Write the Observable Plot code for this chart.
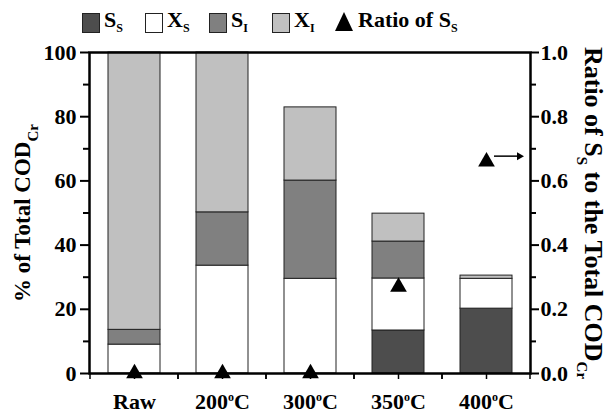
<!DOCTYPE html>
<html>
<head>
<meta charset="utf-8">
<script src="https://cdn.jsdelivr.net/npm/d3@7"></script>
<script src="https://cdn.jsdelivr.net/npm/@observablehq/plot@0.6"></script>
<style>
  body { margin: 0; background: #fff; font-family: "Liberation Serif", "Times New Roman", serif; }
  #wrap { position: relative; width: 608px; height: 416px; }
  #legend { position: relative; height: 42px; width: 608px; font-weight: bold; font-size: 22px; }
  .sw { position: absolute; top: 13px; width: 18px; height: 20px; box-sizing: border-box; border: 1px solid #222; }
  .lt { position: absolute; top: 8px; line-height: 24px; white-space: nowrap; }
  .lt sub { font-size: 12px; vertical-align: -5px; line-height: 0; }
  .tri { position: absolute; top: 12px; width: 0; height: 0; border-left: 9px solid transparent; border-right: 9px solid transparent; border-bottom: 19px solid #000; }
  svg { display: block; overflow: visible; }
</style>
</head>
<body>
<div id="wrap">
  <div id="legend"></div>
  <div id="chart"></div>
</div>
<script>
// ---- data ----
const categories = ["Raw", "200°C", "300°C", "350°C", "400°C"];
const components = ["S_S", "X_S", "S_I", "X_I"];
const Ss = [0, 0, 0, 13.4, 20.2];
const Xs = [9.0, 33.6, 29.5, 16.2, 9.3];
const Si = [4.6, 16.6, 30.6, 11.5, 0];
const Xi = [86.4, 49.8, 22.8, 8.7, 1.0];
const ratioSs = [0, 0, 0, 0.27, 0.66];
const yTicks = [0, 20, 40, 60, 80, 100];
const yMinorTicks = [10, 30, 50, 70, 90];
const ratioTicks = [0, 0.2, 0.4, 0.6, 0.8, 1.0];
const ratioMinorTicks = [0.1, 0.3, 0.5, 0.7, 0.9];
const colors = ["#4d4d4d", "#ffffff", "#808080", "#c0c0c0"];
const leftTitle = [["% of Total COD", ""], ["Cr", "sub"]];
const rightTitle = [["Ratio of S", ""], ["S", "sub"], [" to the Total COD", ""], ["Cr", "sub"]];

// ---- table ----
const series = [Ss, Xs, Si, Xi];
const rows = [];
categories.forEach((c, i) => {
  components.forEach((k, j) => rows.push({cat: c, comp: k, value: series[j][i]}));
});
const ratioRows = categories.map((c, i) => ({cat: c, ratio: ratioSs[i] * 100}));

// ---- legend ----
const legend = d3.select("#legend");
const legendItems = [
  {label: "S", sub: "S", color: colors[0], x: 82},
  {label: "X", sub: "S", color: colors[1], x: 145},
  {label: "S", sub: "I", color: colors[2], x: 209},
  {label: "X", sub: "I", color: colors[3], x: 272}
];
legendItems.forEach(it => {
  legend.append("div").attr("class", "sw").style("left", it.x + "px").style("background", it.color);
  legend.append("div").attr("class", "lt").style("left", (it.x + 22) + "px").html(`${it.label}<sub>${it.sub}</sub>`);
});
legend.append("div").attr("class", "tri").style("left", "335px");
legend.append("div").attr("class", "lt").style("left", "358px").html("Ratio of S<sub>S</sub>");

// ---- plot ----
const font = "Liberation Serif";
const leftText = leftTitle.map(s => s[0]).join("");
const rightText = rightTitle.map(s => s[0]).join("");
const plot = Plot.plot({
  width: 608,
  height: 374,
  marginTop: 10,
  marginBottom: 43,
  marginLeft: 89,
  marginRight: 78,
  style: {fontFamily: font, fontWeight: "bold", fontSize: "22px", color: "#000", background: "#fff", overflow: "visible"},
  x: {domain: categories, paddingInner: 0.41, paddingOuter: 0.205, label: null},
  y: {domain: [0, 100], label: null},
  color: {domain: components, range: colors},
  marks: [
    Plot.rectY(rows, Plot.stackY({order: components}, {x: "cat", y: "value", fill: "comp", stroke: "#222", strokeWidth: 1})),
    Plot.axisY(yTicks, {anchor: "left", tickSize: 9, tickPadding: 4, tickFormat: d => String(d), fontSize: 22, fontWeight: "bold", strokeWidth: 2, label: null}),
    Plot.axisY(yMinorTicks, {anchor: "left", tickSize: 6, text: null, strokeWidth: 2, label: null}),
    Plot.axisY(ratioTicks.map(v => v * 100), {anchor: "right", tickSize: 8, tickPadding: 2, tickFormat: d => (d / 100).toFixed(1), fontSize: 22, fontWeight: "bold", strokeWidth: 2, label: null}),
    Plot.axisY(ratioMinorTicks.map(v => v * 100), {anchor: "right", tickSize: 5, text: null, strokeWidth: 2, label: null}),
    Plot.axisX(categories, {tickSize: 6, tickPadding: 14, fontSize: 22, fontWeight: "bold", strokeWidth: 1.5, label: null}),
    Plot.frame({stroke: "#000", strokeWidth: 2.5}),
    Plot.dot(ratioRows, {x: "cat", y: "ratio", symbol: "triangle", r: 6.2, fill: "#000", stroke: "none"}),
    Plot.text([leftText], {frameAnchor: "left", textAnchor: "middle", dx: -67, rotate: -90, fontSize: 23, fontWeight: "bold"}),
    Plot.text([rightText], {frameAnchor: "right", textAnchor: "middle", dx: 63, rotate: 90, fontSize: 26, fontWeight: "bold"})
  ]
});
document.getElementById("chart").appendChild(plot);

const svg = d3.select(plot);
// rich titles with subscripts (shifts in px so they cancel exactly)
function rich(full, parts, subSize, shift) {
  svg.selectAll("text").filter(function() { return this.textContent === full; }).each(function() {
    const t = d3.select(this);
    t.text(null);
    parts.forEach(([s, kind], i) => {
      const ts = t.append("tspan").text(s);
      const prevSub = i > 0 && parts[i - 1][1] === "sub";
      if (kind === "sub") ts.attr("font-size", subSize).attr("dy", shift);
      else if (prevSub) ts.attr("dy", -shift);
    });
  });
}
rich(leftText, leftTitle, 15, 8);
rich(rightText, rightTitle, 15, 8);

// superscript degree in x tick labels
svg.selectAll("text").filter(function() { return /^\d+°C$/.test(this.textContent); }).each(function() {
  const t = d3.select(this);
  const m = t.text().match(/^(\d+)°C$/);
  t.text(null);
  t.append("tspan").text(m[1]);
  t.append("tspan").text("o").attr("font-size", 12).attr("dy", -8);
  t.append("tspan").text("C").attr("dy", 8);
});

// boundary ticks on x axis and arrow from the last ratio to the right axis
const xs = plot.scale("x"), ys = plot.scale("y");
const step = xs.step;
const y0 = ys.apply(0);
const g = svg.append("g");
categories.forEach(c => {
  const cx = xs.apply(c) + xs.bandwidth / 2;
  [cx - step / 2, cx + step / 2].forEach(bx => {
    g.append("line").attr("x1", bx).attr("x2", bx).attr("y1", y0).attr("y2", y0 + 6).attr("stroke", "#000").attr("stroke-width", 1.5);
  });
});
const last = categories.length - 1;
const ax = xs.apply(categories[last]) + xs.bandwidth / 2;
const ay = ys.apply(ratioSs[last] * 100) - 5;
const xRight = xs.range[1];
g.append("line").attr("x1", ax + 8).attr("x2", xRight - 12).attr("y1", ay).attr("y2", ay).attr("stroke", "#000").attr("stroke-width", 1.5);
g.append("path").attr("d", `M${xRight - 6},${ay} L${xRight - 13},${ay - 4} L${xRight - 13},${ay + 4} Z`).attr("fill", "#000");
</script>
</body>
</html>
